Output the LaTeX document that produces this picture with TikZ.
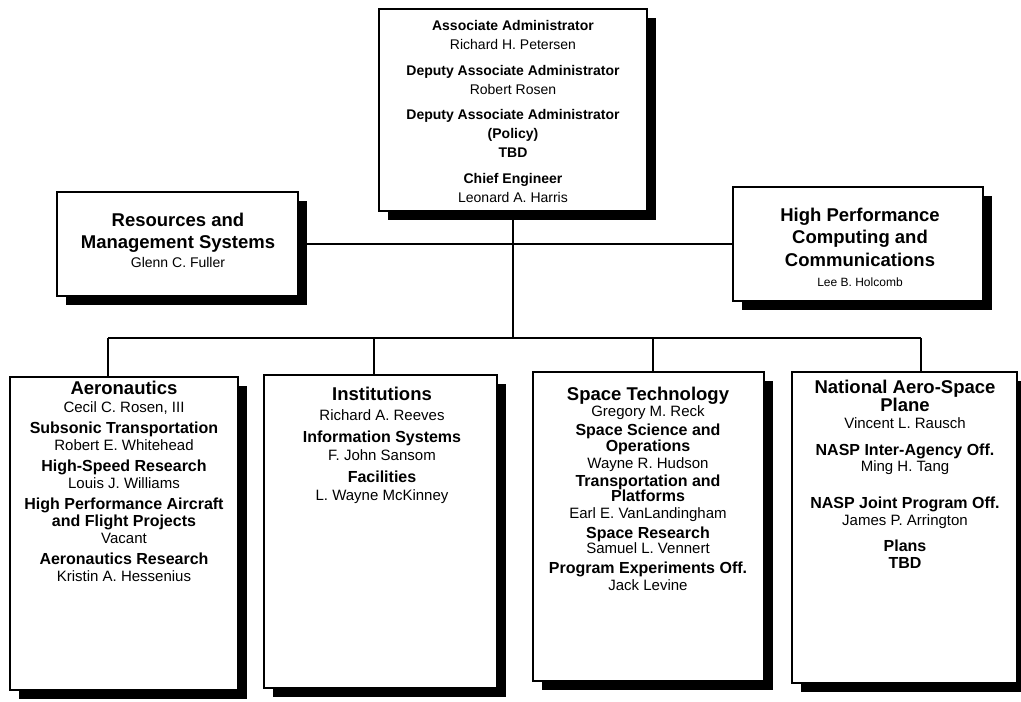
\documentclass[tikz,border=0pt]{standalone}
\usepackage{fontspec}
\setmainfont{Liberation Sans}
\usetikzlibrary{shadows}
\begin{document}
\begin{tikzpicture}[x=1pt,y=-1pt,
  box/.style={draw, line width=1.8pt, fill=white, inner sep=0pt, rectangle,
    drop shadow={shadow xshift=9pt, shadow yshift=-9pt, fill=black, opacity=1}},
  ttl/.style={anchor=base, inner sep=0pt, font=\fontsize{14}{16}\selectfont\bfseries},
  ttlb/.style={anchor=base, inner sep=0pt, font=\fontsize{16}{18}\selectfont\bfseries},
  big/.style={anchor=base, inner sep=0pt, font=\fontsize{18.5}{21}\selectfont\bfseries},
  nam/.style={anchor=base, inner sep=0pt, font=\fontsize{14}{16}\selectfont},
  namb/.style={anchor=base, inner sep=0pt, font=\fontsize{15}{17}\selectfont},
  nams/.style={anchor=base, inner sep=0pt, font=\fontsize{12}{14}\selectfont},
  conn/.style={line width=1.8pt}]
\fill[white] (0,0) rectangle (1021,702);
\useasboundingbox (0,0) rectangle (1021,702);

% boxes
\node[box, minimum width=268pt, minimum height=202pt] (top) at (513,110) {};
\node[box, minimum width=241pt, minimum height=104pt] (left) at (177.5,244) {};
\node[box, minimum width=250pt, minimum height=114pt] (right) at (858,244) {};
\node[box, minimum width=228pt, minimum height=313pt] (b1) at (124,533.5) {};
\node[box, minimum width=233pt, minimum height=313pt] (b2) at (380.5,531.5) {};
\node[box, minimum width=231pt, minimum height=309pt] (b3) at (648.5,526.5) {};
\node[box, minimum width=225pt, minimum height=311pt] (b4) at (904.5,527.5) {};

% connectors
\coordinate (busL) at (108,338);
\coordinate (busR) at (921,338);
\coordinate (d2) at (374,338);
\coordinate (d3) at (653,338);
\draw[conn] (top.south) -- (top.south |- busL);
\draw[conn] (left.east) -- (right.west);
\draw[conn] (busL) -- (busR);
\draw[conn] (busL) -- (busL |- b1.north);
\draw[conn] (d2) -- (d2 |- b2.north);
\draw[conn] (d3) -- (d3 |- b3.north);
\draw[conn] (busR) -- (busR |- b4.north);

% top box text
\foreach \yy/\txt/\sty [count=\i] in {
  30.5/{Associate Administrator}/ttl,
  49.5/{Richard H. Petersen}/nam,
  75/{Deputy Associate Administrator}/ttl,
  94/{Robert Rosen}/nam,
  119.5/{Deputy Associate Administrator}/ttl,
  138.5/{(Policy)}/ttl,
  157.5/{TBD}/ttl,
  183/{Chief Engineer}/ttl,
  202/{Leonard A. Harris}/nam}
  \node[\sty] (tt\i) at (513,\yy) {\txt};

% left box text
\foreach \yy/\txt/\sty [count=\i] in {
  226.5/{Resources and}/big,
  248.5/{Management Systems}/big,
  267.5/{Glenn C. Fuller}/nam}
  \node[\sty] (lt\i) at (178,\yy) {\txt};

% right box text
\foreach \yy/\txt/\sty [count=\i] in {
  221/{High Performance}/big,
  243.5/{Computing and}/big,
  266/{Communications}/big,
  286/{Lee B. Holcomb}/nams}
  \node[\sty] (rt\i) at (860,\yy) {\txt};

% Aeronautics
\foreach \yy/\txt/\sty [count=\i] in {
  394.5/{Aeronautics}/big,
  412/{Cecil C. Rosen, III}/namb,
  433.5/{Subsonic Transportation}/ttlb,
  450/{Robert E. Whitehead}/namb,
  471.5/{High-Speed Research}/ttlb,
  488.5/{Louis J. Williams}/namb,
  509.5/{High Performance Aircraft}/ttlb,
  526.5/{and Flight Projects}/ttlb,
  543.5/{Vacant}/namb,
  564.5/{Aeronautics Research}/ttlb,
  581.5/{Kristin A. Hessenius}/namb}
  \node[\sty] (at\i) at (124,\yy) {\txt};

% Institutions
\foreach \yy/\txt/\sty [count=\i] in {
  400/{Institutions}/big,
  420/{Richard A. Reeves}/namb,
  442/{Information Systems}/ttlb,
  460/{F. John Sansom}/namb,
  482/{Facilities}/ttlb,
  500/{L. Wayne McKinney}/namb}
  \node[\sty] (it\i) at (382,\yy) {\txt};

% Space Technology
\foreach \yy/\txt/\sty [count=\i] in {
  400/{Space Technology}/big,
  416/{Gregory M. Reck}/namb,
  435.5/{Space Science and}/ttlb,
  451/{Operations}/ttlb,
  468/{Wayne R. Hudson}/namb,
  486/{Transportation and}/ttlb,
  501.5/{Platforms}/ttlb,
  518/{Earl E. VanLandingham}/namb,
  538/{Space Research}/ttlb,
  553.5/{Samuel L. Vennert}/namb,
  573/{Program Experiments Off.}/ttlb,
  590/{Jack Levine}/namb}
  \node[\sty] (st\i) at (648,\yy) {\txt};

% NASP
\foreach \yy/\txt/\sty [count=\i] in {
  393/{National Aero-Space}/big,
  411/{Plane}/big,
  428/{Vincent L. Rausch}/namb,
  455/{NASP Inter-Agency Off.}/ttlb,
  471/{Ming H. Tang}/namb,
  508/{NASP Joint Program Off.}/ttlb,
  525/{James P. Arrington}/namb,
  551/{Plans}/ttlb,
  568/{TBD}/ttlb}
  \node[\sty] (nt\i) at (905,\yy) {\txt};
\end{tikzpicture}
\end{document}
